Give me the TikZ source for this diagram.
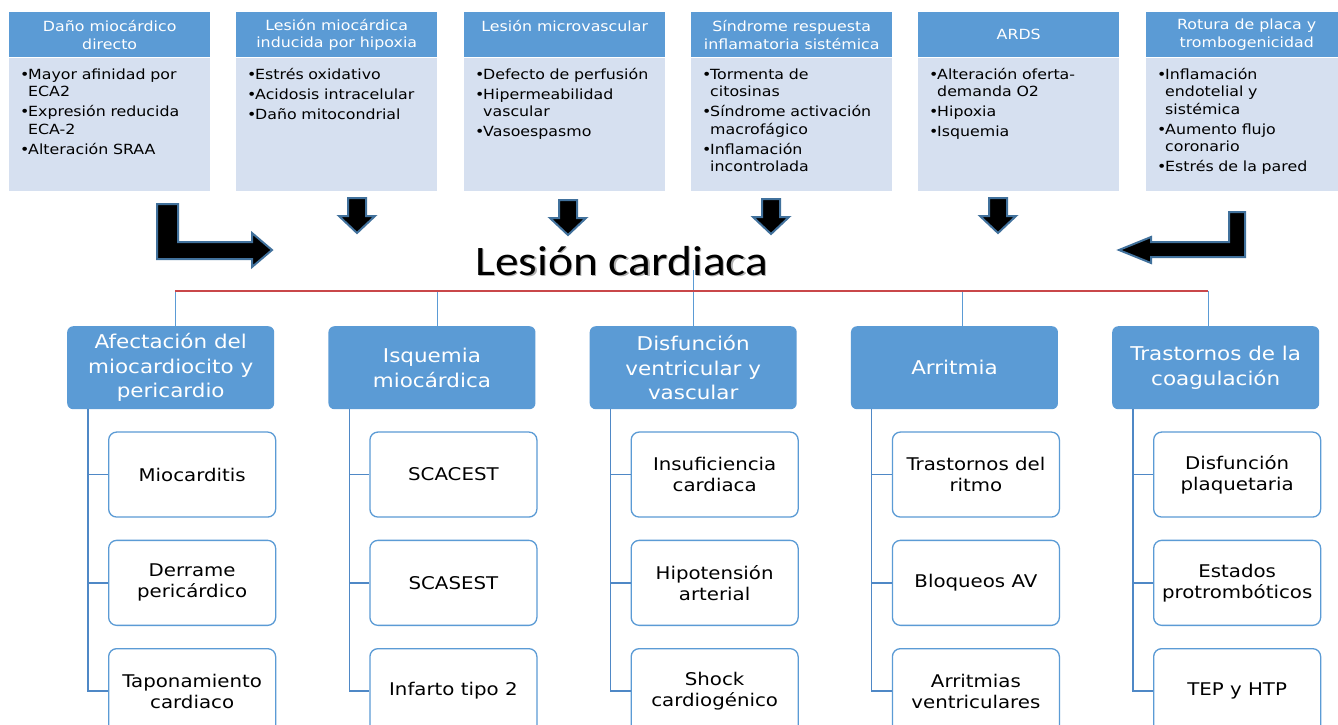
\documentclass[tikz,border=0pt]{standalone}
\usepackage{fontspec}
\newfontfamily\boxfont{DejaVu Sans}[FakeStretch=1.13]
\newfontfamily\titlefont{Carlito}[FakeStretch=1.13]

\definecolor{hdrblue}{HTML}{5B9BD5}
\definecolor{bodyblue}{HTML}{D6E0F0}
\definecolor{arrowedge}{HTML}{41719C}
\definecolor{treeblue}{HTML}{4F88C6}
\definecolor{redline}{HTML}{C9474A}

% bullet item with hanging indent
\newcommand\itm[1]{\par\hangindent=8pt\hangafter=1\noindent\rule{0pt}{12pt}\makebox[8pt][l]{\textbullet}#1}

\tikzset{
  hdr/.style={fill=hdrblue, text=white, anchor=north west, minimum width=201pt,
    minimum height=45pt, inner sep=0pt, align=center,
    font=\boxfont\fontsize{14}{17.6}\selectfont},
  bodybox/.style={fill=bodyblue, anchor=north west, minimum width=201pt,
    minimum height=133pt, inner sep=0pt},
  bodytext/.style={anchor=north west, inner sep=0pt, text width=186pt, align=left,
    font=\boxfont\fontsize{14}{17.5}\selectfont,
    execute at begin node={\setlength{\parskip}{2.5pt}}},
  bigarrow/.style={fill=black, draw=arrowedge, line width=2pt, line join=miter},
  cat/.style={fill=hdrblue, text=white, rounded corners=6pt, anchor=north west,
    minimum width=207pt, minimum height=83pt, inner sep=0pt, align=center,
    font=\boxfont\fontsize{19}{24.5}\selectfont},
  leaf/.style={draw=hdrblue, fill=white, line width=1.3pt, rounded corners=8pt,
    anchor=north west, minimum width=167pt, minimum height=85pt, inner sep=0pt,
    align=center, font=\boxfont\fontsize{17.5}{21}\selectfont},
  tree/.style={draw=treeblue, line width=1.4pt},
  link/.style={draw=hdrblue, line width=0.9pt},
  redl/.style={draw=redline, line width=1.6pt},
  titletext/.style={anchor=base west, inner sep=0pt,
    font=\titlefont\fontsize{42}{48}\selectfont}
}

\begin{document}
\begin{tikzpicture}[x=1pt, y=-1pt]
\useasboundingbox (0,0) rectangle (1338,724);
\clip (0,0) rectangle (1338,724);
\fill[white] (0,0) rectangle (1338,724);

% ---------- upper row: causes ----------
\node[hdr] (h1) at (9,12) {Daño miocárdico\\directo};
\node[bodybox] (b1) at (h1.south west) {};
\node[bodytext] (t1) at (20,59) {\itm{Mayor afinidad por\newline ECA2}\itm{Expresión reducida\newline ECA-2}\itm{Alteración SRAA}\par};

\node[hdr] (h2) at (236,12) {Lesión miocárdica\\inducida por hipoxia};
\node[bodybox] (b2) at (h2.south west) {};
\node[bodytext] (t2) at (247,59) {\itm{Estrés oxidativo}\itm{Acidosis intracelular}\itm{Daño mitocondrial}\par};

\node[hdr] (h3) at (464,12) {Lesión microvascular\\~};
\node[bodybox] (b3) at (h3.south west) {};
\node[bodytext] (t3) at (475,59) {\itm{Defecto de perfusión}\itm{Hipermeabilidad\newline vascular}\itm{Vasoespasmo}\par};

\node[hdr] (h4) at (691,12) {Síndrome respuesta\\inflamatoria sistémica};
\node[bodybox] (b4) at (h4.south west) {};
\node[bodytext] (t4) at (702,59) {\itm{Tormenta de\newline citosinas}\itm{Síndrome activación\newline macrofágico}\itm{Inflamación\newline incontrolada}\par};

\node[hdr] (h5) at (918,12) {ARDS};
\node[bodybox] (b5) at (h5.south west) {};
\node[bodytext] (t5) at (929,59) {\itm{Alteración oferta-\newline demanda O2}\itm{Hipoxia}\itm{Isquemia}\par};

\node[hdr] (h6) at (1146,12) {Rotura de placa y\\trombogenicidad};
\node[bodybox] (b6) at (h6.south west) {};
\node[bodytext] (t6) at (1157,59) {\itm{Inflamación\newline endotelial y\newline sistémica}\itm{Aumento flujo\newline coronario}\itm{Estrés de la pared}\par};

% ---------- block arrows ----------
\filldraw[bigarrow] (157,204) -- (178,204) -- (178,242) -- (252,242) -- (252,233)
  -- (272,250) -- (252,267) -- (252,259) -- (157,259) -- cycle;
\filldraw[bigarrow] (1245,212) -- (1245,257) -- (1151,257) -- (1151,263)
  -- (1119,250) -- (1151,237) -- (1151,242) -- (1229,242) -- (1229,212) -- cycle;
\foreach \cx/\ty in {357/198, 568/200, 771/199, 998/198}{
  \filldraw[bigarrow] (\cx-9,\ty) -- (\cx+9,\ty) -- (\cx+9,\ty+18) -- (\cx+18,\ty+18)
    -- (\cx,\ty+35) -- (\cx-18,\ty+18) -- (\cx-9,\ty+18) -- cycle;
}

% ---------- lower row: consequences ----------
\node[cat] (cat1) at (67,326) {Afectación del\\miocardiocito y\\pericardio};
\node[cat] (cat2) at (328.25,326) {Isquemia\\miocárdica};
\node[cat] (cat3) at (589.5,326) {Disfunción\\ventricular y\\vascular};
\node[cat] (cat4) at (850.75,326) {Arritmia};
\node[cat] (cat5) at (1112,326) {Trastornos de la\\coagulación};

% connectors from the title to each group
\coordinate (ctop) at (693,270);
\coordinate (r1) at (175,291);
\coordinate (r2) at (437,291);
\coordinate (r3) at (693,291);
\coordinate (r4) at (962,291);
\coordinate (r5) at (1208,291);
\draw[link] (ctop) -- (ctop |- cat3.north);
\draw[link] (r1) -- (r1 |- cat1.north);
\draw[link] (r2) -- (r2 |- cat2.north);
\draw[link] (r4) -- (r4 |- cat4.north);
\draw[link] (r5) -- (r5 |- cat5.north);
\draw[redl] (r1) -- (r5);

% title
\node[titletext, text=black!30] (tshadow) at (476.5,276.5) {Lesión cardiaca};
\node[titletext] (title) at (475,275) {Lesión cardiaca};

% child boxes
\newcommand\leaves[4]{%
  \node[leaf] (#1a) at ([xshift=41pt,yshift=-22pt]#1.south west) {#2};
  \node[leaf] (#1b) at ([yshift=-22pt]#1a.south west) {#3};
  \node[leaf] (#1c) at ([yshift=-22pt]#1b.south west) {#4};
  \coordinate (#1t) at ([xshift=21pt]#1.south west);
  \draw[tree] (#1t) |- (#1a.west);
  \draw[tree] (#1t) |- (#1b.west);
  \draw[tree] (#1t) |- (#1c.west);
}
\leaves{cat1}{Miocarditis}{Derrame\\pericárdico}{Taponamiento\\cardiaco}
\leaves{cat2}{SCACEST}{SCASEST}{Infarto tipo 2}
\leaves{cat3}{Insuficiencia\\cardiaca}{Hipotensión\\arterial}{Shock\\cardiogénico}
\leaves{cat4}{Trastornos del\\ritmo}{Bloqueos AV}{Arritmias\\ventriculares}
\leaves{cat5}{Disfunción\\plaquetaria}{Estados\\protrombóticos}{TEP y HTP}
\end{tikzpicture}
\end{document}
